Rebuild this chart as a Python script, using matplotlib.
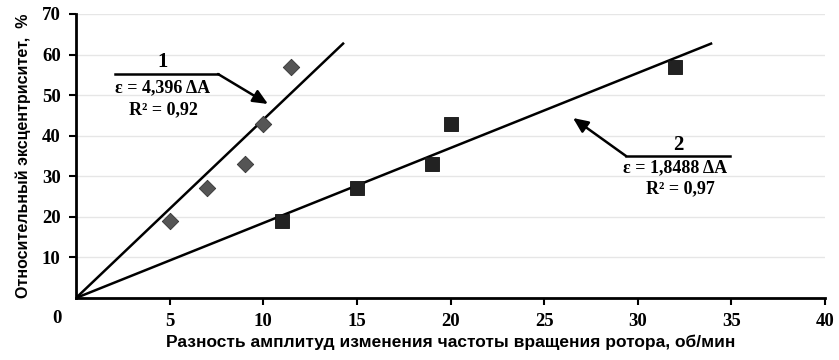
import matplotlib
matplotlib.use("Agg")
import matplotlib.pyplot as plt
import numpy as np

# Data
x1 = [5, 7, 9, 10, 11.5]
y1 = [19, 27, 33, 43, 57]
x2 = [11, 15, 19, 20, 32]
y2 = [19, 27, 33, 43, 57]
slope1 = 4.396
slope2 = 1.8488
line_top = 62.7
xticks = [5, 10, 15, 20, 25, 30, 35, 40]
yticks = [10, 20, 30, 40, 50, 60, 70]
xlabel = "Разность амплитуд изменения частоты вращения ротора, об/мин"
ylabel = "Относительный эксцентриситет,  %"
ann1 = ["1", "ε = 4,396 ΔA", "R² = 0,92"]
ann2 = ["2", "ε = 1,8488 ΔA", "R² = 0,97"]

W, H = 839, 360
fig = plt.figure(figsize=(W/100, H/100), dpi=100)
ax = fig.add_axes([76/W, 1-298/H, (825-76)/W, (298-14)/H])
ax.set_xlim(0, 40)
ax.set_ylim(0, 70)

serif = "Liberation Serif"
sans = "Liberation Sans"

for yv in yticks:
    ax.axhline(yv, color="#e6e6e6", lw=1.0, zorder=0)

for s, xs in ((slope1, x1), (slope2, x2)):
    xe = line_top / s
    ax.plot([0, xe], [0, s*xe], color="black", lw=1.8, zorder=2)

ax.scatter(x1, y1, marker="D", s=70, color="#555555", edgecolor="#333333", linewidth=0.6, zorder=3)
ax.scatter(x2, y2, marker="s", s=115, color="#222222", edgecolor="#111111", linewidth=0.6, zorder=3)

for side in ("top", "right"):
    ax.spines[side].set_visible(False)
ax.spines["left"].set_linewidth(2.0)
ax.spines["bottom"].set_linewidth(2.0)

ax.set_xticks(xticks)
ax.set_yticks(yticks)
ax.tick_params(axis="both", direction="out", length=5, width=1.5, labelsize=13.5, pad=6)
for lab in ax.get_xticklabels() + ax.get_yticklabels():
    lab.set_fontfamily(serif)
    lab.set_fontweight("bold")
ax.text(-1.0, -5.0, "0", fontfamily=serif, fontweight="bold", fontsize=13.5,
        ha="center", va="center", transform=ax.transData, clip_on=False)

ax.set_xlabel(xlabel, fontfamily=sans, fontweight="bold", fontsize=12.5, labelpad=3)
ax.set_ylabel(ylabel, fontfamily=sans, fontweight="bold", fontsize=11.5, labelpad=8)

def px2data(px, py):
    return (px-76)/(825-76)*40, (298-py)/(298-14)*70

arrow_style = "-|>,head_length=0.9,head_width=0.4"

# annotation 1
a, b = px2data(115, 74); c, d = px2data(218, 74); e, f = px2data(268, 104)
ax.plot([a, c], [b, d], color="black", lw=1.8, zorder=4)
ax.annotate("", xy=(e, f), xytext=(c, d),
            arrowprops=dict(arrowstyle=arrow_style, color="black", lw=1.8, shrinkA=0, shrinkB=0))
for txt, py in zip(ann1, (62, 88, 110)):
    tx, ty = px2data(163, py)
    ax.text(tx, ty, txt, fontfamily=serif, fontweight="bold", fontsize=13 if txt != "1" else 15,
            ha="center", va="center")

# annotation 2
a, b = px2data(730, 156); c, d = px2data(626, 156); e, f = px2data(573, 118)
ax.plot([a, c], [b, d], color="black", lw=1.8, zorder=4)
ax.annotate("", xy=(e, f), xytext=(c, d),
            arrowprops=dict(arrowstyle=arrow_style, color="black", lw=1.8, shrinkA=0, shrinkB=0))
for txt, px, py in zip(ann2, (678, 675, 680), (145, 168, 189)):
    tx, ty = px2data(px, py)
    ax.text(tx, ty, txt, fontfamily=serif, fontweight="bold", fontsize=13 if txt != "2" else 15,
            ha="center", va="center")

fig.savefig("out.png", dpi=100)
